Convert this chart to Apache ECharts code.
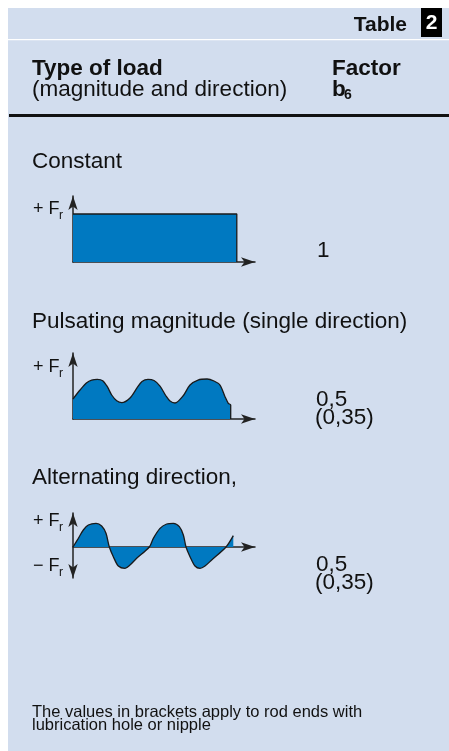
<!DOCTYPE html>
<html>
<head>
<meta charset="utf-8">
<script src="https://cdn.jsdelivr.net/npm/echarts@6/dist/echarts.min.js"></script>
<style>
html,body{margin:0;padding:0;background:#ffffff;}
#chart{width:449px;height:751px;}
</style>
</head>
<body>
<div id="chart"></div>
<script>
// ---- Data (x: time units 0..10 along axis, y: load in units of Fr) ----
var constantLoad = [[0, 1], [9.0, 1], [9.0, 0]];
var pulsatingLoad = [
  [0, 0.417], [0.385, 0.604], [0.753, 0.756], [1.027, 0.812], [1.335, 0.827],
  [1.632, 0.798], [1.885, 0.673], [2.126, 0.5], [2.401, 0.381], [2.676, 0.34],
  [3.132, 0.437], [3.516, 0.646], [3.791, 0.781], [4.121, 0.827], [4.451, 0.802],
  [4.78, 0.687], [5.11, 0.479], [5.33, 0.375], [5.604, 0.333], [6.044, 0.479],
  [6.429, 0.708], [6.868, 0.812], [7.363, 0.833], [7.747, 0.792], [8.077, 0.708],
  [8.352, 0.465], [8.533, 0.327], [8.665, 0.292], [8.665, 0]
];
var alternatingLoad = [
  [0, 0], [0.293, 0.361], [0.568, 0.708], [0.842, 0.917], [1.264, 0.986],
  [1.575, 0.875], [1.813, 0.569], [1.996, 0], [2.216, -0.403], [2.491, -0.792],
  [2.857, -0.889], [3.132, -0.75], [3.498, -0.472], [4.194, 0], [4.414, 0.361],
  [4.78, 0.778], [5.147, 0.958], [5.513, 0.986], [5.843, 0.847], [6.063, 0.5],
  [6.209, 0], [6.429, -0.403], [6.703, -0.792], [6.978, -0.889], [7.253, -0.792],
  [7.619, -0.542], [8.407, 0], [8.808, 0.472]
];
var factorLabels = ['1', '0,5', '(0,35)', '0,5', '(0,35)'];

var FONT = 'Liberation Sans, Arial, Helvetica, sans-serif';
var BLUE = '#0079c1';
var BG = '#d2ddee';
var INK = '#111111';

var chart = echarts.init(document.getElementById('chart'), null, {renderer: 'canvas'});

function mkAxisX(gi) {
  return {
    type: 'value', gridIndex: gi, min: 0, max: 10,
    axisLine: {show: true, onZero: true, symbol: ['none', 'arrow'], symbolSize: [7, 14],
      lineStyle: {color: '#222', width: 1.5}},
    axisTick: {show: false}, axisLabel: {show: false}, splitLine: {show: false}
  };
}
function mkAxisY(gi, mn, mx, both) {
  return {
    type: 'value', gridIndex: gi, min: mn, max: mx,
    axisLine: {show: true, onZero: false, symbol: both ? ['arrow', 'arrow'] : ['none', 'arrow'], symbolSize: [7, 14],
      lineStyle: {color: '#222', width: 1.5}},
    axisTick: {show: false}, axisLabel: {show: false}, splitLine: {show: false}
  };
}
function mkSeries(gi, data, smooth) {
  return {
    type: 'line', xAxisIndex: gi, yAxisIndex: gi, data: data,
    smooth: smooth, showSymbol: false, symbol: 'none', silent: true,
    lineStyle: {color: '#1a1a1a', width: 1.3},
    areaStyle: {color: BLUE, opacity: 1},
    z: 1
  };
}

function txt(x, y, text, size, opts) {
  opts = opts || {};
  return {
    type: 'text', x: x, y: y, z: 100, silent: true,
    style: {
      text: text, fill: opts.fill || INK, fontSize: size,
      fontWeight: opts.bold ? 'bold' : 'normal', fontFamily: FONT,
      align: opts.align || 'left', verticalAlign: 'middle'
    }
  };
}

var option = {
  animation: false,
  backgroundColor: 'transparent',
  grid: [
    {left: 73, top: 196, width: 182, height: 66},
    {left: 73, top: 353, width: 182, height: 66},
    {left: 73, top: 513, width: 182, height: 65}
  ],
  xAxis: [mkAxisX(0), mkAxisX(1), mkAxisX(2)],
  yAxis: [mkAxisY(0, 0, 1.375, false), mkAxisY(1, 0, 1.375, false), mkAxisY(2, -1.292, 1.417, true)],
  series: [
    mkSeries(0, constantLoad, false),
    mkSeries(1, pulsatingLoad, 0.3),
    mkSeries(2, alternatingLoad, 0.3)
  ],
  graphic: [
    {type: 'rect', z: -10, silent: true, shape: {x: 8, y: 8, width: 441, height: 743}, style: {fill: BG}},
    {type: 'rect', z: 50, silent: true, shape: {x: 8, y: 39, width: 441, height: 1.3}, style: {fill: '#ffffff'}},
    {type: 'rect', z: 50, silent: true, shape: {x: 9, y: 114, width: 440, height: 3}, style: {fill: '#111111'}},
    {type: 'rect', z: 50, silent: true, shape: {x: 421, y: 8, width: 21, height: 29}, style: {fill: '#000000'}},
    txt(407, 25, 'Table', 21, {bold: true, align: 'right'}),
    txt(431.5, 23.5, '2', 21, {bold: true, align: 'center', fill: '#ffffff'}),
    txt(32, 69, 'Type of load', 22.5, {bold: true}),
    txt(32, 90, '(magnitude and direction)', 22.5),
    txt(332, 69, 'Factor', 22.5, {bold: true}),
    txt(332, 90, 'b', 22.5, {bold: true}),
    txt(344, 95, '6', 14, {bold: true}),
    txt(32, 162, 'Constant', 22.5),
    txt(33, 209, '+ F', 18),
    txt(59, 216, 'r', 12),
    txt(317, 251, factorLabels[0], 22.5),
    txt(32, 322, 'Pulsating magnitude (single direction)', 22.5),
    txt(33, 367, '+ F', 18),
    txt(59, 374, 'r', 12),
    txt(316, 400, factorLabels[1], 22.5),
    txt(315, 418, factorLabels[2], 22.5),
    txt(32, 478, 'Alternating direction,', 22.5),
    txt(33, 521, '+ F', 18),
    txt(59, 528, 'r', 12),
    txt(33, 566, '\u2212 F', 18),
    txt(59, 573, 'r', 12),
    txt(316, 565, factorLabels[3], 22.5),
    txt(315, 583, factorLabels[4], 22.5),
    txt(32, 712, 'The values in brackets apply to rod ends with', 16.5),
    txt(32, 725, 'lubrication hole or nipple', 16.5)
  ]
};
chart.setOption(option);
</script>
</body>
</html>
